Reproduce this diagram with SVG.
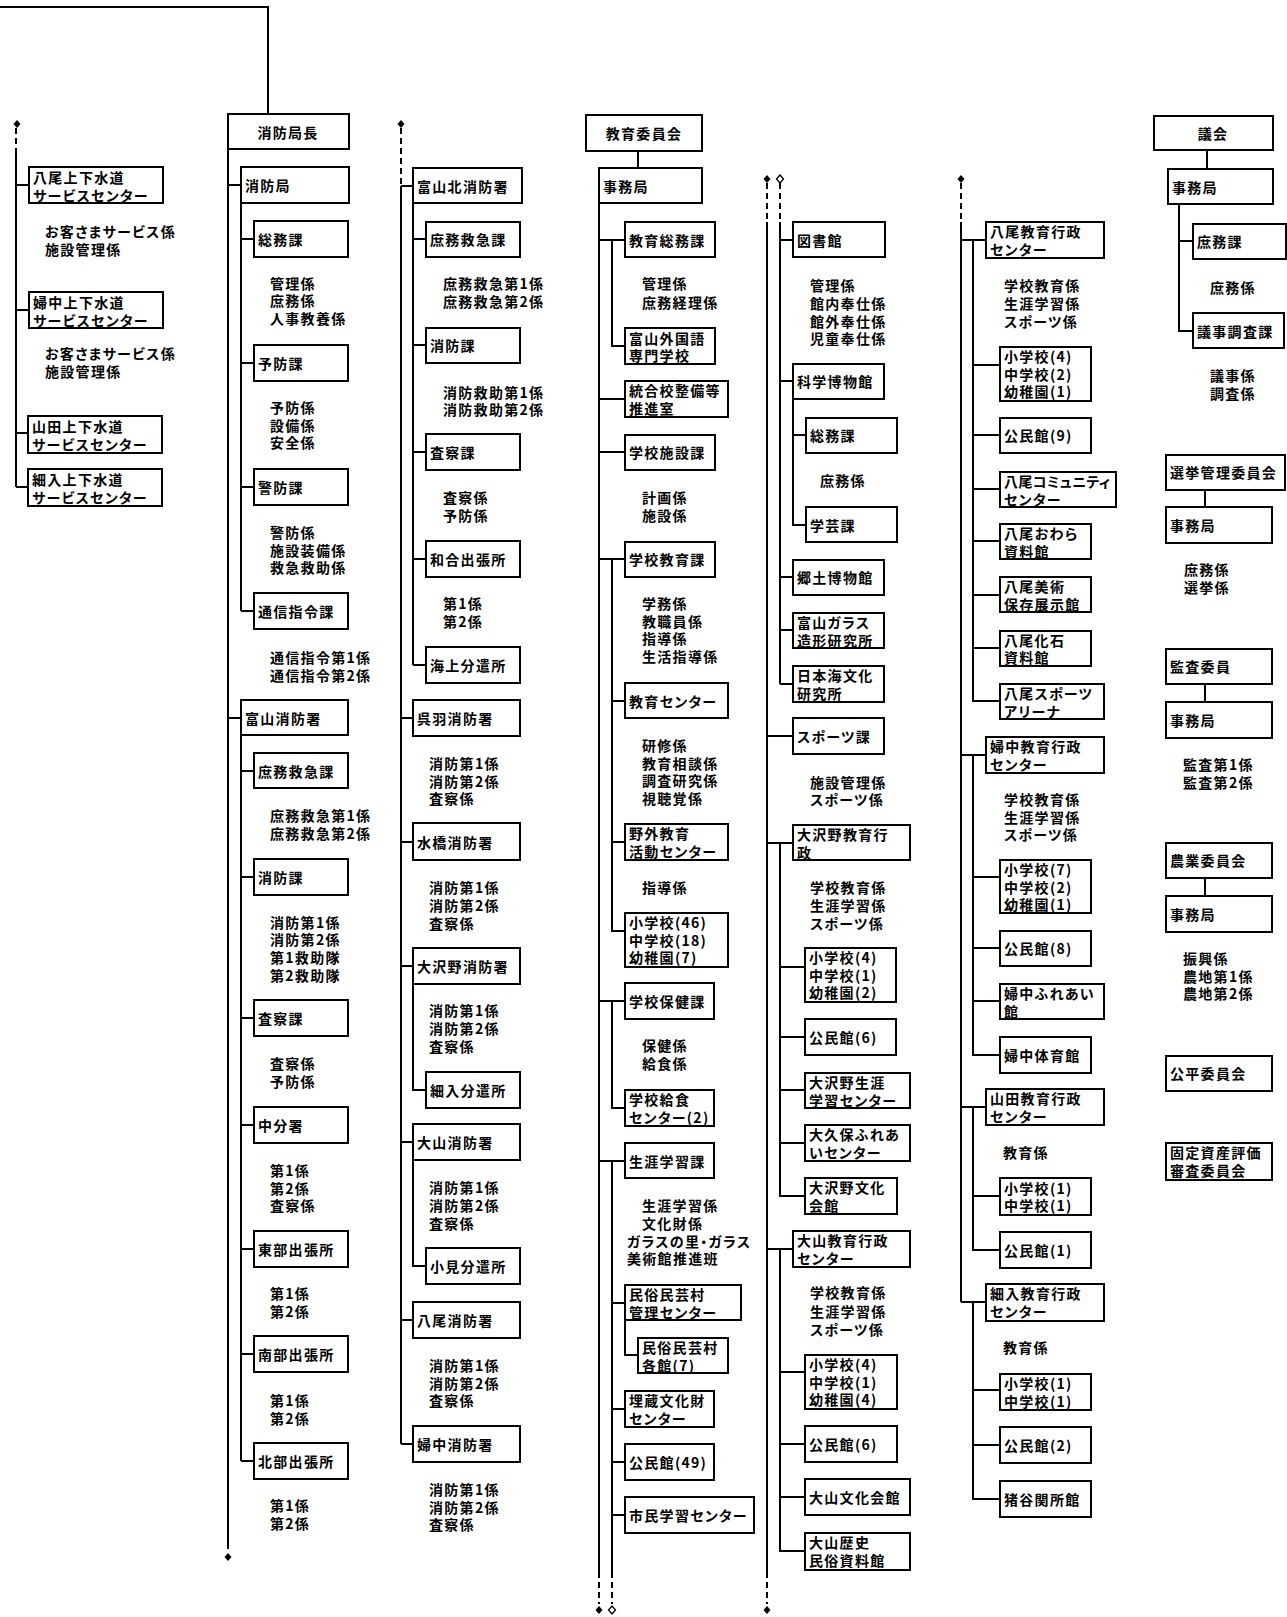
<svg xmlns="http://www.w3.org/2000/svg" width="1287" height="1617" viewBox="0 0 1287 1617">
<style>
.bx{fill:#fff;stroke:#000;stroke-width:2}
.ln{fill:none;stroke:#000;stroke-width:2}
.ds{fill:none;stroke:#000;stroke-width:2;stroke-dasharray:6 4}
.dm{fill:#000}
.dh{fill:#fff;stroke:#000;stroke-width:1.3}
text{font-family:"Noto Sans CJK JP","Noto Sans CJK SC",sans-serif;font-size:14px;letter-spacing:1.3px;font-weight:700;dominant-baseline:central;font-feature-settings:"palt"}
.c{text-anchor:middle}
.n{letter-spacing:0.4px}
</style>
<rect width="1287" height="1617" fill="#fff"/>
<g id="connectors">
<path class="ln" d="M0,7H268V114"/>
<path class="ds" d="M16,128V150 M228,1543V1553 M401,128V186 M599,1572V1604 M612,1572V1604 M767,183V222 M780,183V222 M767,1572V1604 M961,183V222"/>
<path class="ln" d="M16,150V487 M16,185H29 M16,310H29 M16,433H28 M16,487H28"/>
<path class="ln" d="M228,149V1543 M228,185H241 M241,203V611 M241,239H254 M241,363H254 M241,487H254 M241,611H254 M228,718H241 M241,735V1461 M241,771H254 M241,877H254 M241,1018H254 M241,1125H254 M241,1249H254 M241,1354H254 M241,1461H254"/>
<path class="ln" d="M401,186V1444 M401,186H413 M413,203V665 M413,239H426 M413,345H426 M413,452H426 M413,559H426 M413,665H426 M401,718H413 M401,842H413 M401,966H413 M413,984V1090H426 M401,1142H413 M413,1160V1266H426 M401,1320H413 M401,1444H413"/>
<path class="ln" d="M638,151V168 M599,203V1572 M599,240H625 M612,240V346H625 M599,399H625 M599,452H625 M599,559H625 M612,559V931H625 M612,701H625 M612,842H625 M599,1001H625 M612,1001V1108H625 M599,1161H625 M612,1161V1572 M612,1303H625 M625,1320V1355H638 M612,1409H625 M612,1462H625 M612,1515H625"/>
<path class="ln" d="M767,222V1572 M780,222V684 M780,240H793 M780,381H793 M793,399V525H806 M793,435H806 M780,577H793 M780,630H793 M780,684H793 M767,736H793 M767,843H793 M780,843V1196H805 M780,967H805 M780,1037H805 M780,1090H805 M780,1143H805 M767,1249H793 M780,1249V1551H805 M780,1372H805 M780,1444H805 M780,1497H805"/>
<path class="ln" d="M961,222V1302 M961,240H986 M973,240V701H1000 M973,365H1000 M973,435H1000 M973,489H1000 M973,541H1000 M973,595H1000 M973,648H1000 M961,755H986 M973,755V1055H1000 M973,877H1000 M973,948H1000 M973,1001H1000 M961,1107H986 M973,1107V1250H1000 M973,1196H1000 M961,1302H986 M973,1302V1499H1000 M973,1390H1000 M973,1445H1000"/>
<path class="ln" d="M1207,150V169 M1179,204V331H1193 M1179,241H1193 M1205,490V507 M1205,684V702 M1205,878V896"/>
<path class="dm" d="M17,120l3.5,4l-3.5,4l-3.5,-4z M401,120l3.5,4l-3.5,4l-3.5,-4z M228,1553l3.5,4l-3.5,4l-3.5,-4z M599,1606l3.5,4l-3.5,4l-3.5,-4z M767,175l3.5,4l-3.5,4l-3.5,-4z M767,1606l3.5,4l-3.5,4l-3.5,-4z M961,175l3.5,4l-3.5,4l-3.5,-4z"/>
<path class="dh" d="M612,1606l3.5,4l-3.5,4l-3.5,-4z M780,175l3.5,4l-3.5,4l-3.5,-4z"/>
</g>
<g id="w1"><rect class="bx" x="29" y="167" width="134" height="36"/><text x="33" y="177">八尾上下水道</text><text x="33" y="195">サービスセンター</text></g>
<g id="w1t"><text x="45" y="231">お客さまサービス係</text><text x="45" y="249">施設管理係</text></g>
<g id="w2"><rect class="bx" x="29" y="292" width="134" height="36"/><text x="33" y="302">婦中上下水道</text><text x="33" y="320">サービスセンター</text></g>
<g id="w2t"><text x="45" y="353">お客さまサービス係</text><text x="45" y="371">施設管理係</text></g>
<g id="w3"><rect class="bx" x="28" y="416" width="134" height="37"/><text x="32" y="426">山田上下水道</text><text x="32" y="444">サービスセンター</text></g>
<g id="w4"><rect class="bx" x="28" y="469" width="134" height="37"/><text x="32" y="479">細入上下水道</text><text x="32" y="497">サービスセンター</text></g>
<g id="f0"><rect class="bx" x="228" y="114" width="121" height="35"/><text class="c" x="288" y="132">消防局長</text></g>
<g id="f1"><rect class="bx" x="241" y="167" width="108" height="36"/><text x="245" y="185">消防局</text></g>
<g id="f2"><rect class="bx" x="254" y="221" width="94" height="36"/><text x="258" y="239">総務課</text></g>
<g id="f2t"><text x="270" y="283">管理係</text><text x="270" y="300">庶務係</text><text x="270" y="318">人事教養係</text></g>
<g id="f3"><rect class="bx" x="254" y="345" width="94" height="36"/><text x="258" y="363">予防課</text></g>
<g id="f3t"><text x="270" y="407">予防係</text><text x="270" y="425">設備係</text><text x="270" y="442">安全係</text></g>
<g id="f4"><rect class="bx" x="254" y="469" width="94" height="36"/><text x="258" y="487">警防課</text></g>
<g id="f4t"><text x="270" y="532">警防係</text><text x="270" y="550">施設装備係</text><text x="270" y="567">救急救助係</text></g>
<g id="f5"><rect class="bx" x="254" y="593" width="94" height="36"/><text x="258" y="611">通信指令課</text></g>
<g id="f5t"><text x="270" y="657">通信指令第1係</text><text x="270" y="675">通信指令第2係</text></g>
<g id="f6"><rect class="bx" x="241" y="700" width="107" height="35"/><text x="245" y="718">富山消防署</text></g>
<g id="f7"><rect class="bx" x="254" y="753" width="94" height="35"/><text x="258" y="771">庶務救急課</text></g>
<g id="f7t"><text x="270" y="815">庶務救急第1係</text><text x="270" y="833">庶務救急第2係</text></g>
<g id="f8"><rect class="bx" x="254" y="859" width="94" height="36"/><text x="258" y="877">消防課</text></g>
<g id="f8t"><text x="270" y="922">消防第1係</text><text x="270" y="939">消防第2係</text><text x="270" y="957">第1救助隊</text><text x="270" y="975">第2救助隊</text></g>
<g id="f9"><rect class="bx" x="254" y="1000" width="94" height="36"/><text x="258" y="1018">査察課</text></g>
<g id="f9t"><text x="270" y="1063">査察係</text><text x="270" y="1081">予防係</text></g>
<g id="f10"><rect class="bx" x="254" y="1107" width="94" height="36"/><text x="258" y="1125">中分署</text></g>
<g id="f10t"><text x="270" y="1170">第1係</text><text x="270" y="1188">第2係</text><text x="270" y="1205">査察係</text></g>
<g id="f11"><rect class="bx" x="254" y="1231" width="94" height="36"/><text x="258" y="1249">東部出張所</text></g>
<g id="f11t"><text x="270" y="1293">第1係</text><text x="270" y="1311">第2係</text></g>
<g id="f12"><rect class="bx" x="254" y="1336" width="94" height="36"/><text x="258" y="1354">南部出張所</text></g>
<g id="f12t"><text x="270" y="1400">第1係</text><text x="270" y="1418">第2係</text></g>
<g id="f13"><rect class="bx" x="254" y="1443" width="94" height="36"/><text x="258" y="1461">北部出張所</text></g>
<g id="f13t"><text x="270" y="1505">第1係</text><text x="270" y="1523">第2係</text></g>
<g id="g1"><rect class="bx" x="413" y="168" width="109" height="35"/><text x="417" y="186">富山北消防署</text></g>
<g id="g2"><rect class="bx" x="426" y="222" width="94" height="35"/><text x="430" y="239">庶務救急課</text></g>
<g id="g2t"><text x="443" y="283">庶務救急第1係</text><text x="443" y="301">庶務救急第2係</text></g>
<g id="g3"><rect class="bx" x="426" y="328" width="94" height="35"/><text x="430" y="345">消防課</text></g>
<g id="g3t"><text x="443" y="392">消防救助第1係</text><text x="443" y="409">消防救助第2係</text></g>
<g id="g4"><rect class="bx" x="426" y="434" width="94" height="36"/><text x="430" y="452">査察課</text></g>
<g id="g4t"><text x="443" y="497">査察係</text><text x="443" y="515">予防係</text></g>
<g id="g5"><rect class="bx" x="426" y="541" width="94" height="36"/><text x="430" y="559">和合出張所</text></g>
<g id="g5t"><text x="443" y="603">第1係</text><text x="443" y="621">第2係</text></g>
<g id="g6"><rect class="bx" x="426" y="647" width="94" height="36"/><text x="430" y="665">海上分遣所</text></g>
<g id="g7"><rect class="bx" x="413" y="700" width="107" height="36"/><text x="417" y="718">呉羽消防署</text></g>
<g id="g7t"><text x="429" y="763">消防第1係</text><text x="429" y="781">消防第2係</text><text x="429" y="798">査察係</text></g>
<g id="g8"><rect class="bx" x="413" y="823" width="107" height="37"/><text x="417" y="842">水橋消防署</text></g>
<g id="g8t"><text x="429" y="887">消防第1係</text><text x="429" y="905">消防第2係</text><text x="429" y="923">査察係</text></g>
<g id="g9"><rect class="bx" x="413" y="948" width="107" height="36"/><text x="417" y="966">大沢野消防署</text></g>
<g id="g9t"><text x="429" y="1010">消防第1係</text><text x="429" y="1028">消防第2係</text><text x="429" y="1046">査察係</text></g>
<g id="g10"><rect class="bx" x="426" y="1072" width="94" height="36"/><text x="430" y="1090">細入分遣所</text></g>
<g id="g11"><rect class="bx" x="413" y="1124" width="107" height="36"/><text x="417" y="1142">大山消防署</text></g>
<g id="g11t"><text x="429" y="1187">消防第1係</text><text x="429" y="1205">消防第2係</text><text x="429" y="1223">査察係</text></g>
<g id="g12"><rect class="bx" x="426" y="1248" width="94" height="36"/><text x="430" y="1266">小見分遣所</text></g>
<g id="g13"><rect class="bx" x="413" y="1302" width="107" height="36"/><text x="417" y="1320">八尾消防署</text></g>
<g id="g13t"><text x="429" y="1365">消防第1係</text><text x="429" y="1383">消防第2係</text><text x="429" y="1400">査察係</text></g>
<g id="g14"><rect class="bx" x="413" y="1426" width="107" height="36"/><text x="417" y="1444">婦中消防署</text></g>
<g id="g14t"><text x="429" y="1489">消防第1係</text><text x="429" y="1507">消防第2係</text><text x="429" y="1524">査察係</text></g>
<g id="e0"><rect class="bx" x="586" y="115" width="116" height="36"/><text class="c" x="644" y="133">教育委員会</text></g>
<g id="e1"><rect class="bx" x="599" y="168" width="103" height="35"/><text x="603" y="186">事務局</text></g>
<g id="e2"><rect class="bx" x="625" y="222" width="90" height="35"/><text x="629" y="240">教育総務課</text></g>
<g id="e2t"><text x="642" y="283">管理係</text><text x="642" y="302">庶務経理係</text></g>
<g id="e3"><rect class="bx" x="625" y="328" width="90" height="36"/><text x="629" y="338">富山外国語</text><text x="629" y="355">専門学校</text></g>
<g id="e4"><rect class="bx" x="625" y="381" width="103" height="36"/><text x="629" y="390">統合校整備等</text><text x="629" y="408">推進室</text></g>
<g id="e5"><rect class="bx" x="625" y="435" width="90" height="35"/><text x="629" y="452">学校施設課</text></g>
<g id="e5t"><text x="642" y="497">計画係</text><text x="642" y="515">施設係</text></g>
<g id="e6"><rect class="bx" x="625" y="542" width="90" height="35"/><text x="629" y="559">学校教育課</text></g>
<g id="e6t"><text x="642" y="603">学務係</text><text x="642" y="621">教職員係</text><text x="642" y="638">指導係</text><text x="642" y="656">生活指導係</text></g>
<g id="e7"><rect class="bx" x="625" y="683" width="103" height="35"/><text x="629" y="701">教育センター</text></g>
<g id="e7t"><text x="642" y="745">研修係</text><text x="642" y="763">教育相談係</text><text x="642" y="780">調査研究係</text><text x="642" y="798">視聴覚係</text></g>
<g id="e8"><rect class="bx" x="625" y="824" width="103" height="36"/><text x="629" y="833">野外教育</text><text x="629" y="851">活動センター</text></g>
<g id="e8t"><text x="642" y="887">指導係</text></g>
<g id="e9"><rect class="bx" x="625" y="913" width="103" height="54"/><text x="629" y="922">小学校(46)</text><text x="629" y="940">中学校(18)</text><text x="629" y="957">幼稚園(7)</text></g>
<g id="e10"><rect class="bx" x="625" y="983" width="89" height="36"/><text x="629" y="1001">学校保健課</text></g>
<g id="e10t"><text x="642" y="1045">保健係</text><text x="642" y="1063">給食係</text></g>
<g id="e11"><rect class="bx" x="625" y="1090" width="89" height="36"/><text x="629" y="1099">学校給食</text><text x="629" y="1117">センター(2)</text></g>
<g id="e12"><rect class="bx" x="625" y="1143" width="89" height="35"/><text x="629" y="1161">生涯学習課</text></g>
<g id="e12t"><text x="642" y="1205">生涯学習係</text><text x="642" y="1223">文化財係</text><text x="627" y="1241">ガラスの里・ガラス</text><text x="627" y="1258">美術館推進班</text></g>
<g id="e13"><rect class="bx" x="625" y="1285" width="116" height="35"/><text x="629" y="1294">民俗民芸村</text><text x="629" y="1312">管理センター</text></g>
<g id="e14"><rect class="bx" x="638" y="1338" width="90" height="35"/><text x="642" y="1347">民俗民芸村</text><text x="642" y="1365">各館(7)</text></g>
<g id="e15"><rect class="bx" x="625" y="1391" width="89" height="36"/><text x="629" y="1400">埋蔵文化財</text><text x="629" y="1418">センター</text></g>
<g id="e16"><rect class="bx" x="625" y="1444" width="89" height="36"/><text x="629" y="1462">公民館(49)</text></g>
<g id="e17"><rect class="bx" x="625" y="1497" width="129" height="36"/><text x="629" y="1515">市民学習センター</text></g>
<g id="h1"><rect class="bx" x="793" y="222" width="92" height="35"/><text x="797" y="240">図書館</text></g>
<g id="h1t"><text x="810" y="285">管理係</text><text x="810" y="303">館内奉仕係</text><text x="810" y="321">館外奉仕係</text><text x="810" y="338">児童奉仕係</text></g>
<g id="h2"><rect class="bx" x="793" y="364" width="91" height="35"/><text x="797" y="381">科学博物館</text></g>
<g id="h3"><rect class="bx" x="806" y="418" width="91" height="35"/><text x="810" y="435">総務課</text></g>
<g id="h3t"><text x="820" y="480">庶務係</text></g>
<g id="h4"><rect class="bx" x="806" y="507" width="91" height="35"/><text x="810" y="525">学芸課</text></g>
<g id="h5"><rect class="bx" x="793" y="560" width="91" height="35"/><text x="797" y="577">郷土博物館</text></g>
<g id="h6"><rect class="bx" x="793" y="613" width="91" height="35"/><text x="797" y="622">富山ガラス</text><text x="797" y="640">造形研究所</text></g>
<g id="h7"><rect class="bx" x="793" y="666" width="91" height="36"/><text x="797" y="675">日本海文化</text><text x="797" y="693">研究所</text></g>
<g id="h8"><rect class="bx" x="793" y="718" width="91" height="36"/><text x="797" y="736">スポーツ課</text></g>
<g id="h8t"><text x="810" y="782">施設管理係</text><text x="810" y="799">スポーツ係</text></g>
<g id="h9"><rect class="bx" x="793" y="825" width="117" height="35"/><text x="797" y="834">大沢野教育行</text><text x="797" y="852">政</text></g>
<g id="h9t"><text x="810" y="887">学校教育係</text><text x="810" y="905">生涯学習係</text><text x="810" y="923">スポーツ係</text></g>
<g id="h10"><rect class="bx" x="805" y="948" width="91" height="54"/><text x="809" y="957">小学校(4)</text><text x="809" y="975">中学校(1)</text><text x="809" y="992">幼稚園(2)</text></g>
<g id="h11"><rect class="bx" x="805" y="1019" width="91" height="36"/><text x="809" y="1037">公民館(6)</text></g>
<g id="h12"><rect class="bx" x="805" y="1073" width="105" height="35"/><text x="809" y="1082">大沢野生涯</text><text x="809" y="1100">学習センター</text></g>
<g id="h13"><rect class="bx" x="805" y="1125" width="105" height="36"/><text x="809" y="1134">大久保ふれあ</text><text x="809" y="1152">いセンター</text></g>
<g id="h14"><rect class="bx" x="805" y="1178" width="92" height="36"/><text x="809" y="1187">大沢野文化</text><text x="809" y="1205">会館</text></g>
<g id="h15"><rect class="bx" x="793" y="1231" width="117" height="36"/><text x="797" y="1240">大山教育行政</text><text x="797" y="1258">センター</text></g>
<g id="h15t"><text x="810" y="1292">学校教育係</text><text x="810" y="1311">生涯学習係</text><text x="810" y="1329">スポーツ係</text></g>
<g id="h16"><rect class="bx" x="805" y="1355" width="92" height="54"/><text x="809" y="1364">小学校(4)</text><text x="809" y="1382">中学校(1)</text><text x="809" y="1399">幼稚園(4)</text></g>
<g id="h17"><rect class="bx" x="805" y="1426" width="92" height="36"/><text x="809" y="1444">公民館(6)</text></g>
<g id="h18"><rect class="bx" x="805" y="1479" width="105" height="36"/><text x="809" y="1497">大山文化会館</text></g>
<g id="h19"><rect class="bx" x="805" y="1533" width="105" height="37"/><text x="809" y="1542">大山歴史</text><text x="809" y="1560">民俗資料館</text></g>
<g id="k1"><rect class="bx" x="986" y="222" width="118" height="36"/><text x="990" y="231">八尾教育行政</text><text x="990" y="249">センター</text></g>
<g id="k1t"><text x="1004" y="285">学校教育係</text><text x="1004" y="303">生涯学習係</text><text x="1004" y="321">スポーツ係</text></g>
<g id="k2"><rect class="bx" x="1000" y="347" width="91" height="54"/><text x="1004" y="356">小学校(4)</text><text x="1004" y="374">中学校(2)</text><text x="1004" y="391">幼稚園(1)</text></g>
<g id="k3"><rect class="bx" x="1000" y="418" width="91" height="35"/><text x="1004" y="435">公民館(9)</text></g>
<g id="k4"><rect class="bx" x="1000" y="472" width="116" height="35"/><text class="n" x="1004" y="481">八尾コミュニティ</text><text x="1004" y="499">センター</text></g>
<g id="k5"><rect class="bx" x="1000" y="524" width="91" height="35"/><text x="1004" y="533">八尾おわら</text><text x="1004" y="551">資料館</text></g>
<g id="k6"><rect class="bx" x="1000" y="577" width="91" height="35"/><text x="1004" y="586">八尾美術</text><text x="1004" y="604">保存展示館</text></g>
<g id="k7"><rect class="bx" x="1000" y="631" width="91" height="35"/><text x="1004" y="640">八尾化石</text><text x="1004" y="657">資料館</text></g>
<g id="k8"><rect class="bx" x="1000" y="684" width="104" height="35"/><text x="1004" y="693">八尾スポーツ</text><text x="1004" y="711">アリーナ</text></g>
<g id="k9"><rect class="bx" x="986" y="737" width="118" height="36"/><text x="990" y="746">婦中教育行政</text><text x="990" y="764">センター</text></g>
<g id="k9t"><text x="1004" y="799">学校教育係</text><text x="1004" y="817">生涯学習係</text><text x="1004" y="834">スポーツ係</text></g>
<g id="k10"><rect class="bx" x="1000" y="860" width="91" height="53"/><text x="1004" y="869">小学校(7)</text><text x="1004" y="887">中学校(2)</text><text x="1004" y="904">幼稚園(1)</text></g>
<g id="k11"><rect class="bx" x="1000" y="931" width="91" height="35"/><text x="1004" y="948">公民館(8)</text></g>
<g id="k12"><rect class="bx" x="1000" y="984" width="104" height="35"/><text x="1004" y="993">婦中ふれあい</text><text x="1004" y="1011">館</text></g>
<g id="k13"><rect class="bx" x="1000" y="1037" width="91" height="36"/><text x="1004" y="1055">婦中体育館</text></g>
<g id="k14"><rect class="bx" x="986" y="1089" width="118" height="36"/><text x="990" y="1098">山田教育行政</text><text x="990" y="1116">センター</text></g>
<g id="k14t"><text x="1003" y="1152">教育係</text></g>
<g id="k15"><rect class="bx" x="1000" y="1178" width="91" height="37"/><text x="1004" y="1188">小学校(1)</text><text x="1004" y="1205">中学校(1)</text></g>
<g id="k16"><rect class="bx" x="1000" y="1232" width="91" height="36"/><text x="1004" y="1250">公民館(1)</text></g>
<g id="k17"><rect class="bx" x="986" y="1284" width="118" height="37"/><text x="990" y="1293">細入教育行政</text><text x="990" y="1311">センター</text></g>
<g id="k17t"><text x="1003" y="1347">教育係</text></g>
<g id="k18"><rect class="bx" x="1000" y="1374" width="91" height="36"/><text x="1004" y="1383">小学校(1)</text><text x="1004" y="1401">中学校(1)</text></g>
<g id="k19"><rect class="bx" x="1000" y="1427" width="91" height="36"/><text x="1004" y="1445">公民館(2)</text></g>
<g id="k20"><rect class="bx" x="1000" y="1481" width="91" height="36"/><text x="1004" y="1499">猪谷関所館</text></g>
<g id="r1"><rect class="bx" x="1154" y="116" width="119" height="34"/><text class="c" x="1213" y="133">議会</text></g>
<g id="r2"><rect class="bx" x="1168" y="169" width="105" height="35"/><text x="1172" y="187">事務局</text></g>
<g id="r3"><rect class="bx" x="1193" y="224" width="93" height="35"/><text x="1197" y="241">庶務課</text></g>
<g id="r3t"><text x="1210" y="287">庶務係</text></g>
<g id="r4"><rect class="bx" x="1193" y="313" width="91" height="35"/><text x="1197" y="331">議事調査課</text></g>
<g id="r4t"><text x="1210" y="375">議事係</text><text x="1210" y="393">調査係</text></g>
<g id="r5"><rect class="bx" x="1166" y="455" width="119" height="35"/><text x="1170" y="472">選挙管理委員会</text></g>
<g id="r6"><rect class="bx" x="1166" y="507" width="106" height="36"/><text x="1170" y="525">事務局</text></g>
<g id="r6t"><text x="1184" y="569">庶務係</text><text x="1184" y="587">選挙係</text></g>
<g id="r7"><rect class="bx" x="1166" y="649" width="106" height="35"/><text x="1170" y="666">監査委員</text></g>
<g id="r8"><rect class="bx" x="1166" y="702" width="106" height="36"/><text x="1170" y="720">事務局</text></g>
<g id="r8t"><text x="1183" y="764">監査第1係</text><text x="1183" y="782">監査第2係</text></g>
<g id="r9"><rect class="bx" x="1166" y="843" width="106" height="35"/><text x="1170" y="860">農業委員会</text></g>
<g id="r10"><rect class="bx" x="1166" y="896" width="106" height="36"/><text x="1170" y="914">事務局</text></g>
<g id="r10t"><text x="1183" y="958">振興係</text><text x="1183" y="976">農地第1係</text><text x="1183" y="993">農地第2係</text></g>
<g id="r11"><rect class="bx" x="1166" y="1056" width="106" height="35"/><text x="1170" y="1073">公平委員会</text></g>
<g id="r12"><rect class="bx" x="1166" y="1143" width="106" height="37"/><text x="1170" y="1152">固定資産評価</text><text x="1170" y="1170">審査委員会</text></g>
</svg>
